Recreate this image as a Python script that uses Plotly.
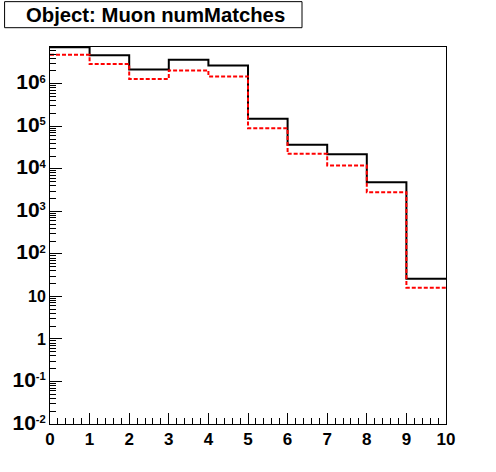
import plotly.graph_objects as go

# ---- data ----
bin_edges = [0, 1, 2, 3, 4, 5, 6, 7, 8, 9, 10]
black_counts = [7.2e6, 4.7e6, 2.17e6, 3.67e6, 2.7e6, 1.5e5, 3.7e4, 2.2e4, 4.8e3, 26]
red_counts = [4.8e6, 2.9e6, 1.29e6, 2.06e6, 1.49e6, 9.0e4, 2.25e4, 1.2e4, 2.8e3, 16]
y_tick_vals = [1e-2, 1e-1, 1, 10, 1e2, 1e3, 1e4, 1e5, 1e6]
y_tick_exps = ["-2", "-1", None, None, "2", "3", "4", "5", "6"]
y_tick_plain = {1: "1", 10: "10"}
x_tick_vals = [0, 1, 2, 3, 4, 5, 6, 7, 8, 9, 10]
title_text = "Object: Muon numMatches"

FONT = "Liberation Sans, Arial, sans-serif"
NARROW = "Liberation Sans Narrow, Liberation Sans, Arial, sans-serif"

def make_label(v, e):
    if e is None:
        return "<b>%s</b>" % y_tick_plain[int(v)]
    return ("<b><span style='font-family:%s;font-size:21px'>10</span>"
            "<sup>%s</sup></b>" % (NARROW, e))

y_tick_text = [make_label(v, e) for v, e in zip(y_tick_vals, y_tick_exps)]

fig = go.Figure()
fig.add_trace(go.Scatter(
    x=bin_edges, y=black_counts + [black_counts[-1]],
    mode="lines", line=dict(color="black", width=2, shape="hv"),
    showlegend=False, hoverinfo="skip"))
fig.add_trace(go.Scatter(
    x=bin_edges, y=red_counts + [red_counts[-1]],
    mode="lines", line=dict(color="red", width=2, shape="hv", dash="4px,2px"),
    showlegend=False, hoverinfo="skip"))

fig.update_layout(
    width=496, height=472,
    margin=dict(l=49.5, r=49.7, t=47.3, b=48, autoexpand=False),
    paper_bgcolor="white", plot_bgcolor="white",
    font=dict(family=FONT, color="black", size=16),
    showlegend=False,
)

fig.update_xaxes(
    range=[0, 10], tickvals=x_tick_vals,
    ticktext=["<b>%d</b>" % v for v in x_tick_vals],
    ticks="inside", ticklen=11, tickwidth=1, tickcolor="black",
    minor=dict(ticks="inside", ticklen=6, dtick=0.2, tickcolor="black", tickwidth=1, showgrid=False),
    showline=True, linecolor="black", linewidth=1, mirror=True,
    showgrid=False, zeroline=False,
    tickfont=dict(family=FONT, size=17, color="black"),
)
fig.update_yaxes(
    type="log", range=[-2, 6.864],
    tickvals=y_tick_vals, ticktext=y_tick_text,
    ticks="inside", ticklen=12, tickwidth=1, tickcolor="black",
    minor=dict(ticks="inside", ticklen=6, dtick="D1", tickcolor="black", tickwidth=1, showgrid=False),
    showline=True, linecolor="black", linewidth=1, mirror=True,
    showgrid=False, zeroline=False,
    tickfont=dict(family=FONT, size=16, color="black"),
)

# title box
fig.add_shape(type="rect", xref="paper", yref="paper",
              x0=-0.1147, x1=0.6364, y0=1.0512, y1=1.1203,
              line=dict(color="black", width=1), fillcolor="white")
fig.add_annotation(text="<b>%s</b>" % title_text, xref="paper", yref="paper",
                   x=0.2659, y=1.0857, xanchor="center", yanchor="middle",
                   showarrow=False, font=dict(family=FONT, size=20.3, color="black"))

fig.write_html("out.html", config={"displayModeBar": False},
               post_script="document.body.style.margin='0';document.body.style.overflow='hidden';")
